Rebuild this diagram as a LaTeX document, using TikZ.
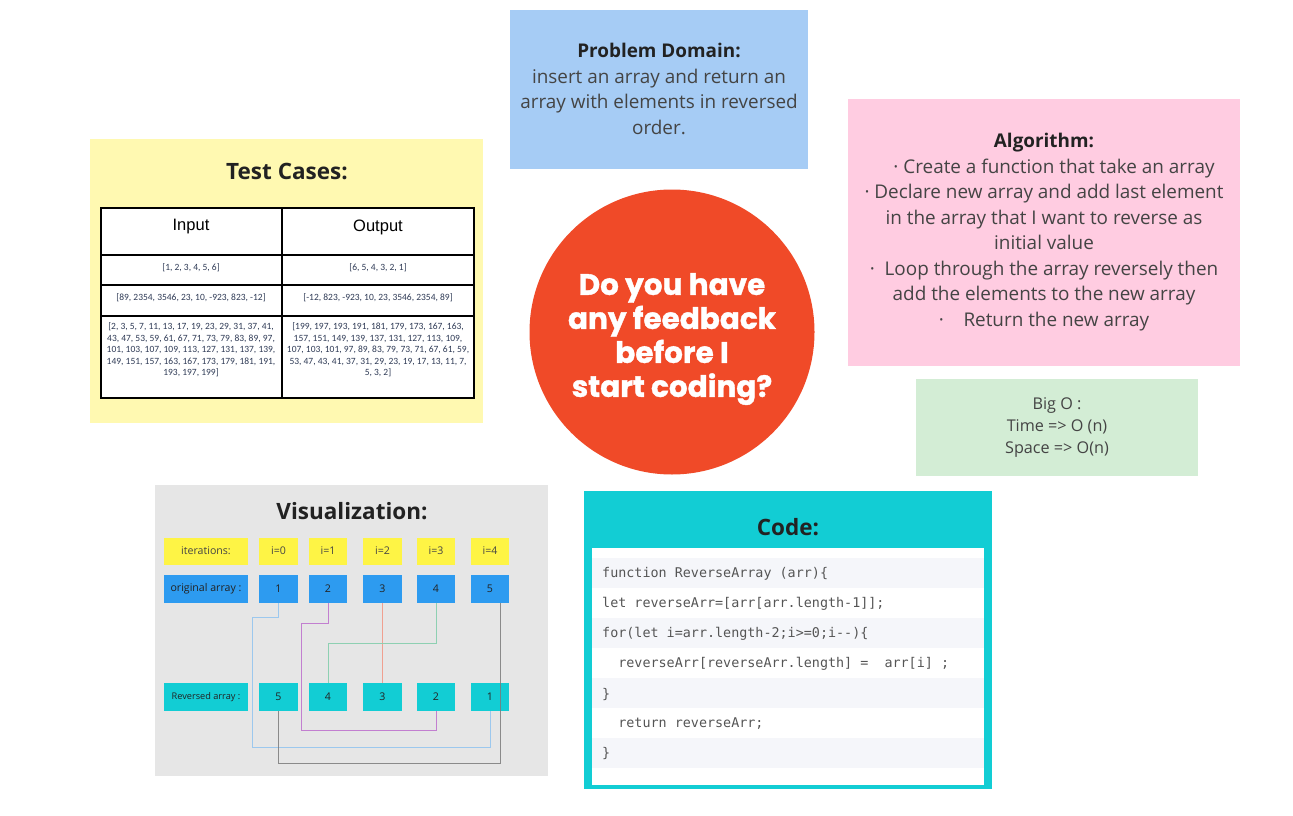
\documentclass[tikz,border=0pt]{standalone}
\usepackage{fontspec}
\setmainfont{Open Sans}
\newfontfamily\tablefont{Carlito}
\newfontfamily\headfont{Liberation Sans}
\newfontfamily\codefont{DejaVu Sans Mono}
\newfontfamily\heavyfont{Poppins}
\usetikzlibrary{positioning}
\definecolor{cyellow}{HTML}{FFF9B1}
\definecolor{cblue}{HTML}{A6CCF5}
\definecolor{cpink}{HTML}{FFCCE1}
\definecolor{cgreen}{HTML}{D3EDD5}
\definecolor{cred}{HTML}{F04A28}
\definecolor{cgray}{HTML}{E6E6E6}
\definecolor{ctag}{HTML}{FEF445}
\definecolor{corig}{HTML}{2D9BF0}
\definecolor{ccyan}{HTML}{12CDD4}
\definecolor{cstripe}{HTML}{F5F6FA}
\definecolor{ctitle}{HTML}{222222}
\definecolor{cbody}{HTML}{444444}
\definecolor{ccode}{HTML}{555555}
\definecolor{ctab}{HTML}{2E3A55}
\definecolor{lblue}{HTML}{9CC8EE}
\definecolor{lpurple}{HTML}{C27FD0}
\definecolor{lred}{HTML}{F0A090}
\definecolor{lgreen}{HTML}{8ED0B2}
\definecolor{lgray}{HTML}{7A7A7A}
\tikzset{
  panel/.style={draw=none, anchor=north west, inner sep=0pt},
  titletext/.style={font=\fontsize{22.5}{26}\selectfont\bfseries, text=ctitle},
  bodytext/.style={font=\fontsize{18.9}{25.5}\selectfont, text=cbody, align=center},
  tabcell/.style={font=\tablefont\fontsize{9.5}{11.6}\selectfont, text=ctab, align=center},
  tabhead/.style={font=\headfont\fontsize{16.5}{18}\selectfont, text=black},
  tagbox/.style={fill=ctag, minimum height=27pt, inner sep=0pt, font=\fontsize{10.6}{12}\selectfont, text=cbody},
  origbox/.style={fill=corig, minimum height=28pt, inner sep=0pt, font=\fontsize{10.6}{12}\selectfont, text=ctitle},
  revbox/.style={fill=ccyan, minimum height=28pt, inner sep=0pt, font=\fontsize{10.6}{12}\selectfont, text=ctitle},
  wire/.style={line width=1pt},
  codeline/.style={anchor=west, inner sep=0pt, font=\codefont\fontsize{13.4}{15}\selectfont, text=ccode},
}
\begin{document}
\begin{tikzpicture}[x=1pt,y={(0pt,-1pt)}]
\useasboundingbox (0,0) rectangle (1293,816);
\fill[white] (0,0) rectangle (1293,816);

% ---------- Test cases ----------
\fill[cyellow] (90,139) rectangle (483,423);
\node[titletext] (tctitle) at (287,172) {Test Cases:};
\fill[white] (101,208) rectangle (474,398);
\draw[line width=2pt] (101,208) rectangle (474,398);
\draw[line width=2pt] (282,208) -- (282,398);
\draw[line width=2pt] (101,255) -- (474,255);
\draw[line width=2pt] (101,285) -- (474,285);
\draw[line width=2pt] (101,316) -- (474,316);
\node[tabhead] (hin) at (191,227) {Input};
\node[tabhead] (hout) at (378,227) {Output};
\node[tabcell] (r1a) at (191,268) {[1, 2, 3, 4, 5, 6]};
\node[tabcell] (r1b) at (378,268) {[6, 5, 4, 3, 2, 1]};
\node[tabcell] (r2a) at (191,298) {[89, 2354, 3546, 23, 10, -923, 823, -12]};
\node[tabcell] (r2b) at (378,298) {[-12, 823, -923, 10, 23, 3546, 2354, 89]};
\node[tabcell] (r3a) at (191,350) {[2, 3, 5, 7, 11, 13, 17, 19, 23, 29, 31, 37, 41,\\43, 47, 53, 59, 61, 67, 71, 73, 79, 83, 89, 97,\\101, 103, 107, 109, 113, 127, 131, 137, 139,\\149, 151, 157, 163, 167, 173, 179, 181, 191,\\193, 197, 199]};
\node[tabcell] (r3b) at (378,350) {[199, 197, 193, 191, 181, 179, 173, 167, 163,\\157, 151, 149, 139, 137, 131, 127, 113, 109,\\107, 103, 101, 97, 89, 83, 79, 73, 71, 67, 61, 59,\\53, 47, 43, 41, 37, 31, 29, 23, 19, 17, 13, 11, 7,\\5, 3, 2]};

% ---------- Problem domain ----------
\fill[cblue] (510,10) rectangle (808,169);
\node[bodytext] (pd) at (659,89) {{\bfseries\color{ctitle}Problem Domain:}\\insert an array and return an\\array with elements in reversed\\order.};

% ---------- Algorithm ----------
\fill[cpink] (848,99) rectangle (1240,366);
\node[bodytext] (alg) at (1044,232) {{\bfseries\color{ctitle}Algorithm:}\\\hspace*{20pt}· Create a function that take an array\\· Declare new array and add last element\\in the array that I want to reverse as\\initial value\\·\ \ Loop through the array reversely then\\add the elements to the new array\\·\ \ \ \ Return the new array};

% ---------- Big O ----------
\fill[cgreen] (916,379) rectangle (1198,476);
\node[font=\fontsize{16.2}{22}\selectfont, text=cbody, align=center] (bigo) at (1057,427) {Big O :\\Time => O (n)\\Space => O(n)};

% ---------- Circle ----------
\node[circle, fill=cred, minimum size=285pt, inner sep=0pt] (fb) at (672,332) {};
\node[font=\heavyfont\bfseries\addfontfeature{FakeBold=1.2}\fontsize{29.5}{34}\selectfont, text=white, align=center] (fbtext) at (672,339) {Do you have\\any feedback\\before I\\start coding?};

% ---------- Visualization ----------
\fill[cgray] (155,485) rectangle (548,776);
\node[titletext] (vistitle) at (352,511) {Visualization:};
\node[tagbox, minimum width=84pt] (it) at (206,551) {iterations:};
\node[tagbox, minimum width=39pt] (i0) at (278.5,551) {i=0};
\node[tagbox, minimum width=38pt] (i1) at (328,551) {i=1};
\node[tagbox, minimum width=39pt] (i2) at (382.5,551) {i=2};
\node[tagbox, minimum width=38pt] (i3) at (436,551) {i=3};
\node[tagbox, minimum width=38pt] (i4) at (490,551) {i=4};

\node[origbox, minimum width=84pt] (oa) at (206,589) {original array :};
\node[origbox, minimum width=39pt] (o1) at (278.5,589) {1};
\node[origbox, minimum width=38pt] (o2) at (328,589) {2};
\node[origbox, minimum width=39pt] (o3) at (382.5,589) {3};
\node[origbox, minimum width=38pt] (o4) at (436,589) {4};
\node[origbox, minimum width=38pt] (o5) at (490,589) {5};

\node[revbox, minimum width=84pt, font=\fontsize{9.2}{10}\selectfont] (ra) at (206,697) {Reversed array :};
\node[revbox, minimum width=39pt] (v5) at (278.5,697) {5};
\node[revbox, minimum width=38pt] (v4) at (328,697) {4};
\node[revbox, minimum width=39pt] (v3) at (382.5,697) {3};
\node[revbox, minimum width=38pt] (v2) at (436,697) {2};
\node[revbox, minimum width=38pt] (v1) at (490,697) {1};

% connectors
\draw[wire, lblue] (o1.south) -- ++(0,14) -| (252,747) -| (v1.south);
\draw[wire, lpurple] (o2.south) -- ++(0,20) -| (301,730) -| (v2.south);
\draw[wire, lred] (o3.south) -- (v3.north);
\draw[wire, lgreen] (o4.south) -- ++(0,40) -| (v4.north);
\coordinate (c5a) at (500,603);
\draw[wire, lgray, opacity=0.85] (c5a) -- (500,763) -| (v5.south);

% ---------- Code ----------
\fill[ccyan] (584,491) rectangle (992,789);
\fill[white] (592,548) rectangle (984,785);
\node[titletext] (codetitle) at (788,527) {Code:};
\foreach \y in {558,618,678,738} {\fill[cstripe] (592,\y) rectangle (984,\y+30);}
\node[codeline] (c1) at (602,574) {function ReverseArray (arr)\{};
\node[codeline] (c2) at (602,604) {let reverseArr=[arr[arr.length-1]];};
\node[codeline] (c3) at (602,634) {for(let i=arr.length-2;i>=0;i--)\{};
\node[codeline] (c4) at (602,664) {\ \ reverseArr[reverseArr.length] =\ \ arr[i] ;};
\node[codeline] (c5) at (602,694) {\}};
\node[codeline] (c6) at (602,724) {\ \ return reverseArr;};
\node[codeline] (c7) at (602,753) {\}};
\end{tikzpicture}
\end{document}
